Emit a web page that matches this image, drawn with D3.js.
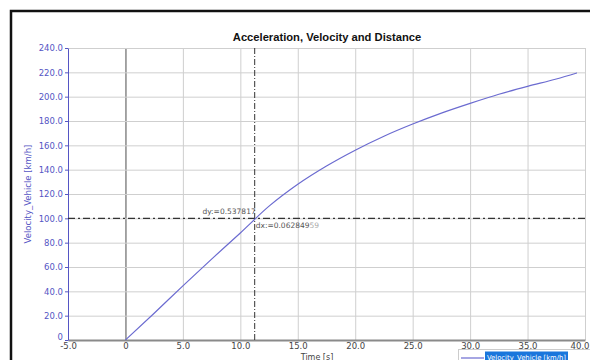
<!DOCTYPE html>
<html>
<head>
<meta charset="utf-8">
<script src="https://cdnjs.cloudflare.com/ajax/libs/d3/7.8.5/d3.min.js"></script>
<style>
body { margin: 0; background: #fff; }
</style>
</head>
<body>
<script>
var w = 590;
var h = 360;
var svg;

// data
var timeValues = [0, 2.5, 5, 7.5, 10, 12.5, 15, 17.5, 20, 22.5, 25, 27.5, 30, 32.5, 35, 37.5, 39.3];
var velocityValues = [0, 22, 44.5, 66.5, 88, 110, 128, 143, 156, 167.5, 177.5, 186.5, 194.5, 202, 208.5, 214.5, 219.5];
var xTicks = [-5, 0, 5, 10, 15, 20, 25, 30, 35, 40];
var yTicks = [0, 20, 40, 60, 80, 100, 120, 140, 160, 180, 200, 220, 240];
var cursorT = [11.25];
var cursorV = [100];

var plotLeft = 68, plotRight = 585, plotTop = 48, plotBottom = 340;
var lineColor = "#6b6bd0";
var axisBlue = "#5555c4";

drawContent();
function drawContent(){
    svg = d3.select("body")
        .append("svg")
        .attr("width", w)
        .attr("height", h);

    var x = d3.scaleLinear().domain([-5, 40]).range([plotLeft, plotRight]);
    var y = d3.scaleLinear().domain([0, 240]).range([plotBottom, plotTop]);

    //---frame-----
    svg.append("rect")
        .attr("x", 11)
        .attr("y", 11)
        .attr("width", 600)
        .attr("height", 400)
        .attr("fill", "none")
        .attr("stroke", "#111")
        .attr("stroke-width", 2.5);

    //---grid-----
    svg.append("g")
        .attr("transform", "translate(0," + plotBottom + ")")
        .call(d3.axisBottom(x).tickValues(xTicks).tickSize(-(plotBottom - plotTop)).tickFormat(""))
        .call(function (g) {
            g.select(".domain").remove();
            g.selectAll(".tick line")
                .attr("stroke", function (d) { return d === 0 ? "#888" : "#cfcfcf"; })
                .attr("stroke-width", function (d) { return d === 0 ? 1.5 : 1; });
        });

    svg.append("g")
        .attr("transform", "translate(" + plotLeft + ",0)")
        .call(d3.axisLeft(y).tickValues(yTicks).tickSize(-(plotRight - plotLeft)).tickFormat(""))
        .call(function (g) {
            g.select(".domain").remove();
            g.selectAll(".tick line").attr("stroke", "#cfcfcf");
        });

    //---bottom axis-----
    var xAxis = svg.append("g")
        .attr("transform", "translate(0," + plotBottom + ")")
        .call(d3.axisBottom(x).tickValues(xTicks).tickSize(0).tickPadding(3)
            .tickFormat(function (d) { return d === 0 ? "0" : d.toFixed(1); }));
    xAxis.select(".domain").attr("stroke", "#8a8a8a").attr("stroke-width", 2);
    xAxis.selectAll("text")
        .attr("font-family", "DejaVu Sans")
        .attr("font-size", 8.5)
        .attr("fill", "#444");
    // last label would run off the right edge
    xAxis.selectAll(".tick text")
        .filter(function (d) { return d === 40; })
        .attr("text-anchor", "end")
        .attr("x", 4);

    //---left axis-----
    var yAxis = svg.append("g")
        .attr("transform", "translate(" + plotLeft + ",0)")
        .call(d3.axisLeft(y).tickValues(yTicks).tickSize(3).tickSizeOuter(0).tickPadding(2)
            .tickFormat(function (d) { return d === 0 ? "0" : d.toFixed(1); }));
    yAxis.select(".domain").attr("stroke", axisBlue);
    yAxis.selectAll(".tick line").attr("stroke", axisBlue);
    yAxis.selectAll("text")
        .attr("font-family", "DejaVu Sans")
        .attr("font-size", 8.5)
        .attr("fill", axisBlue);
    // the zero label sits a little higher, clear of the -5.0 label
    yAxis.selectAll(".tick text")
        .filter(function (d) { return d === 0; })
        .attr("dy", "-0.05em");

    //---cursor-----
    svg.selectAll(".vcursor")
        .data(cursorT)
        .enter()
        .append("line")
        .attr("x1", function (d) { return x(d); })
        .attr("x2", function (d) { return x(d); })
        .attr("y1", plotTop)
        .attr("y2", plotBottom)
        .attr("stroke", "#333")
        .attr("stroke-dasharray", "6,2,1,2");

    svg.selectAll(".hcursor")
        .data(cursorV)
        .enter()
        .append("line")
        .attr("x1", plotLeft)
        .attr("x2", plotRight)
        .attr("y1", function (d) { return y(d); })
        .attr("y2", function (d) { return y(d); })
        .attr("stroke", "#333")
        .attr("stroke-width", 1.2)
        .attr("stroke-dasharray", "7,3,2,3");

    //---curve-----
    var line = d3.line()
        .x(function (d, i) { return x(timeValues[i]); })
        .y(function (d) { return y(d); })
        .curve(d3.curveMonotoneX);

    svg.append("path")
        .datum(velocityValues)
        .attr("d", line)
        .attr("fill", "none")
        .attr("stroke", lineColor)
        .attr("stroke-width", 1.2);

    //---cursor labels-----
    svg.append("text")
        .text("dy:=0.537817")
        .attr("x", x(cursorT[0]) + 1)
        .attr("y", y(cursorV[0]) - 4)
        .attr("text-anchor", "end")
        .attr("font-family", "DejaVu Sans")
        .attr("font-size", 7.5)
        .attr("fill", "#555");

    svg.append("text")
        .text("dx:=0.062849")
        .attr("x", x(cursorT[0]) + 1)
        .attr("y", y(cursorV[0]) + 10)
        .attr("font-family", "DejaVu Sans")
        .attr("font-size", 7.5)
        .attr("fill", "#555")
        .append("tspan")
        .text("59")
        .attr("fill", "#aaa");

    //----text------
    svg.append("text")
        .text("Acceleration, Velocity and Distance")
        .attr("x", 327)
        .attr("y", 40.5)
        .attr("text-anchor", "middle")
        .attr("font-family", "Liberation Sans")
        .attr("font-weight", "bold")
        .attr("font-size", 11.2)
        .attr("fill", "#111");

    svg.append("text")
        .text("Time [s]")
        .attr("x", 317)
        .attr("y", 359.5)
        .attr("text-anchor", "middle")
        .attr("font-family", "DejaVu Sans")
        .attr("font-size", 8)
        .attr("fill", "#444");

    svg.append("text")
        .text("Velocity_Vehicle [km/h]")
        .attr("transform", "translate(31,194) rotate(-90)")
        .attr("text-anchor", "middle")
        .attr("font-family", "DejaVu Sans")
        .attr("font-size", 8.5)
        .attr("fill", axisBlue);

    //---legend----
    svg.append("rect")
        .attr("x", 458.5)
        .attr("y", 349.5)
        .attr("width", 140)
        .attr("height", 30)
        .attr("fill", "#fff")
        .attr("stroke", "#ccc");

    svg.append("line")
        .attr("x1", 461)
        .attr("x2", 484)
        .attr("y1", 358)
        .attr("y2", 358)
        .attr("stroke", lineColor)
        .attr("stroke-width", 1.2);

    svg.append("rect")
        .attr("x", 485)
        .attr("y", 351.5)
        .attr("width", 83)
        .attr("height", 9)
        .attr("fill", "#1a76dc");

    svg.append("text")
        .text("Velocity_Vehicle [km/h]")
        .attr("x", 487)
        .attr("y", 359.5)
        .attr("textLength", 79)
        .attr("lengthAdjust", "spacingAndGlyphs")
        .attr("font-family", "DejaVu Sans")
        .attr("font-size", 7)
        .attr("fill", "#fff");
}
</script>
</body>
</html>
